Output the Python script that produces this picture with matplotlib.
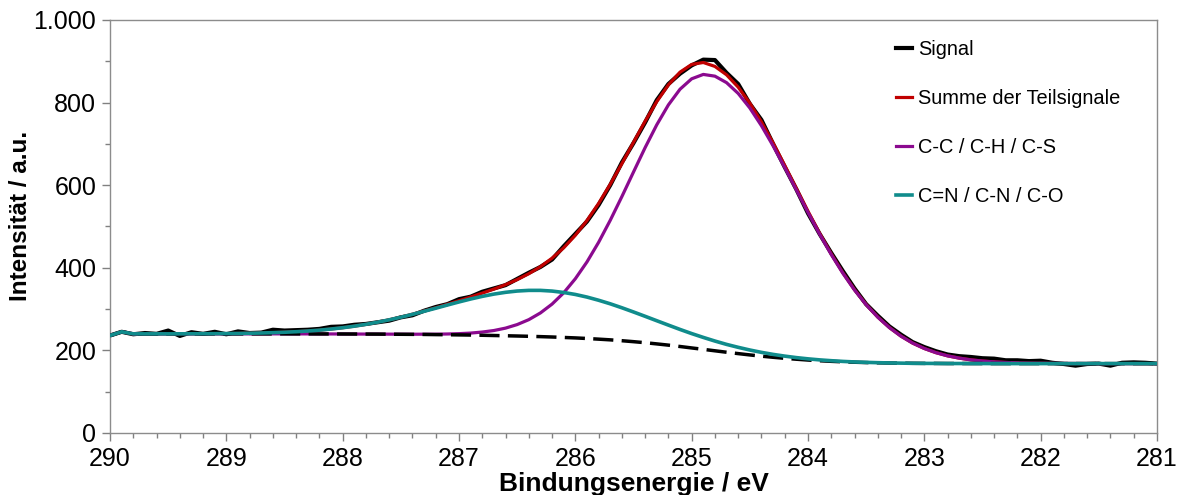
import numpy as np
import matplotlib
matplotlib.use("Agg")
import matplotlib.pyplot as plt
from matplotlib.ticker import FuncFormatter, MultipleLocator

plt.rcParams["font.family"] = ["Liberation Sans", "DejaVu Sans"]

# binding energy grid (eV), 0.1 eV steps from 290 down to 281
energy = np.round(np.linspace(290.0, 281.0, 91), 1)

# measured C 1s signal
signal = [236,
          245, 239, 242, 240, 248, 235, 244, 240, 245, 239,
          246, 242, 243, 250, 248, 249, 250, 252, 257, 258,
          262, 264, 268, 272, 280, 285, 296, 305, 312, 324,
          330, 342, 350, 358, 373, 388, 402, 420, 452, 482,
          512, 552, 600, 655, 702, 752, 806, 845, 870, 890,
          904, 903, 872, 845, 797, 758, 700, 644, 590, 532,
          482, 436, 392, 350, 312, 284, 258, 238, 220, 208,
          198, 190, 186, 184, 181, 180, 176, 176, 174, 175,
          170, 167, 163, 167, 168, 163, 170, 171, 170, 168]

# Shirley-type background (dashed)
background = [236,
              245, 240, 240, 240, 240, 240, 240, 240, 240, 240,
              240, 240, 240, 240, 240, 239.9, 239.9, 239.8, 239.8, 239.7,
              239.6, 239.5, 239.4, 239.2, 239.0, 238.8, 238.6, 238.2, 237.9, 237.5,
              237.1, 236.6, 236.0, 235.4, 234.8, 234.1, 233.3, 232.4, 231.3, 230.2,
              228.8, 227.2, 225.5, 223.4, 221.1, 218.6, 215.7, 212.7, 209.4, 205.9,
              202.5, 199.0, 195.5, 192.2, 189.0, 186.0, 183.3, 180.8, 178.6, 176.6,
              174.9, 173.5, 172.3, 171.3, 170.5, 169.9, 169.4, 169.0, 168.7, 168.5,
              168.4, 168.2, 168.2, 168.1, 168.1, 168.0, 168.0, 168.0, 168.0, 168.0,
              168.0, 168.0, 168.0, 168.0, 168.0, 168.0, 168.0, 168.0, 168.0, 168.0]

# component C-C / C-H / C-S above background
peak_cc = [0,
           0, 0, 0, 0, 0, 0, 0, 0, 0, 0,
           0, 0, 0, 0, 0, 0, 0, 0, 0, 0,
           0, 0, 0.1, 0.1, 0.2, 0.3, 0.6, 1.0, 1.8, 3.0,
           4.8, 7.8, 12.1, 18.5, 27.7, 40.3, 57.4, 79.7, 108.1, 143.3,
           185.4, 234.4, 289.4, 348.9, 410.8, 472.4, 530.5, 581.7, 623.0, 651.7,
           665.7, 665.0, 652.8, 630.0, 598.0, 558.0, 512.1, 462.0, 409.9, 357.5,
           306.6, 258.6, 214.5, 174.9, 140.2, 110.5, 85.7, 65.3, 48.9, 36.1,
           26.1, 18.6, 13.1, 9.0, 6.1, 4.1, 2.7, 1.7, 1.1, 0.7,
           0.4, 0.3, 0.2, 0.1, 0, 0, 0, 0, 0, 0]

# component C=N / C-N / C-O above background
peak_cn = [0,
           0, 0, 0, 0, 0, 0.1, 0.2, 0.3, 0.5, 0.7,
           1.0, 1.5, 2.1, 2.9, 3.9, 5.3, 7.0, 9.2, 11.9, 15.2,
           19.0, 23.6, 28.9, 34.8, 41.3, 48.5, 56.1, 63.9, 71.9, 79.8,
           87.3, 94.2, 100.3, 105.2, 108.9, 111.2, 112.0, 111.2, 108.9, 105.2,
           100.3, 94.2, 87.3, 79.8, 71.9, 63.9, 56.1, 48.5, 41.3, 34.8,
           28.9, 23.6, 19.0, 15.2, 11.9, 9.2, 7.0, 5.3, 3.9, 2.9,
           2.1, 1.5, 1.0, 0.7, 0.5, 0.3, 0.2, 0.1, 0, 0,
           0, 0, 0, 0, 0, 0, 0, 0, 0, 0,
           0, 0, 0, 0, 0, 0, 0, 0, 0, 0]

bg = np.array(background)
cc = bg + np.array(peak_cc)
cn = bg + np.array(peak_cn)
total = bg + np.array(peak_cc) + np.array(peak_cn)

fig = plt.figure(figsize=(11.82, 4.95), dpi=100)
ax = fig.add_axes([0.0931, 0.1253, 0.8857, 0.8343])

ax.plot(energy, signal, color="black", lw=3.0, label="Signal", zorder=2)
ax.plot(energy, total, color="#c00000", lw=2.3, label="Summe der Teilsignale", zorder=3)
ax.plot(energy, cc, color="#8b0a8f", lw=2.3, label="C-C / C-H / C-S", zorder=4)
ax.plot(energy, bg, color="black", lw=2.5, ls=(0, (5.8, 2.4)), zorder=5)
ax.plot(energy, cn, color="#108c8c", lw=2.6, label="C=N / C-N / C-O", zorder=6)

ax.set_xlim(290, 281)
ax.set_ylim(0, 1000)
ax.xaxis.set_major_locator(MultipleLocator(1))
ax.xaxis.set_minor_locator(MultipleLocator(0.2))
ax.yaxis.set_major_locator(MultipleLocator(200))
ax.yaxis.set_minor_locator(MultipleLocator(100))
ax.yaxis.set_major_formatter(FuncFormatter(lambda v, p: f"{int(v):,}".replace(",", ".")))
ax.xaxis.set_major_formatter(FuncFormatter(lambda v, p: f"{int(round(v))}"))

for s in ax.spines.values():
    s.set_color("#8c8c8c")
    s.set_linewidth(1.0)
ax.tick_params(which="both", direction="out", color="#808080", width=1.0)
ax.tick_params(which="major", length=6, labelsize=18, pad=4)
ax.tick_params(which="minor", length=3.5)

ax.set_xlabel("Bindungsenergie / eV", fontsize=19, fontweight="bold", labelpad=1)
ax.set_ylabel("Intensität / a.u.", fontsize=17.5, fontweight="bold")
ax.yaxis.set_label_coords(-0.0745, 0.525)

ax.legend(loc="upper left", bbox_to_anchor=(896 / 1182, 1 - 40 / 495),
          bbox_transform=fig.transFigure, frameon=False, fontsize=14.4,
          handlelength=0.8, handletextpad=0.3, labelspacing=1.5,
          borderpad=0, borderaxespad=0)

fig.savefig("out.png", dpi=100)
